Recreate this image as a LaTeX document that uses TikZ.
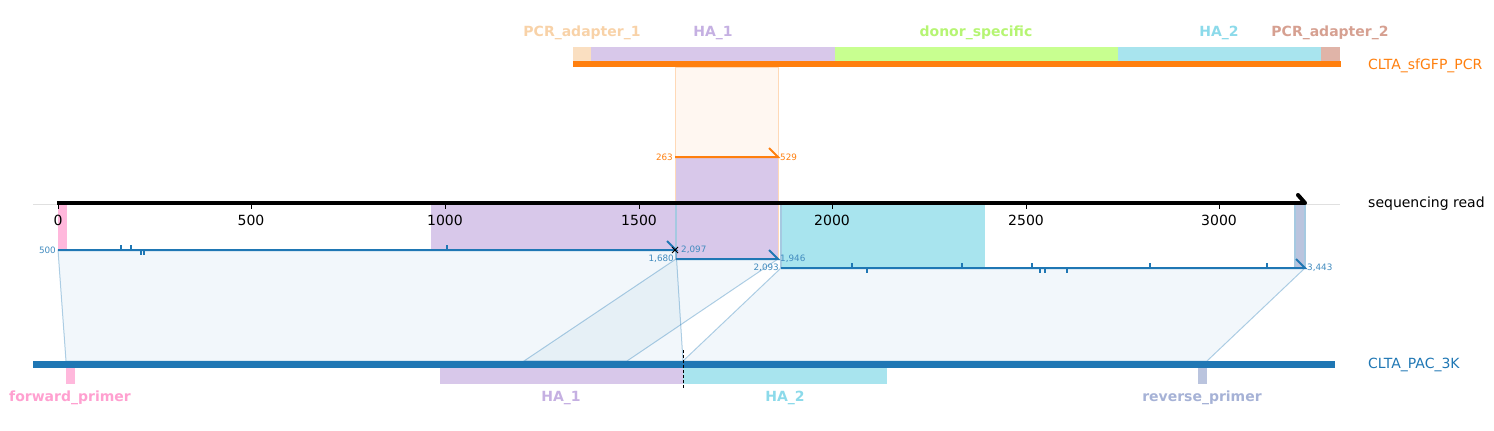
\documentclass[tikz,border=0pt]{standalone}
\usepackage{fontspec}
\setmainfont{DejaVu Sans}
\definecolor{tabblue}{HTML}{1F77B4}
\definecolor{taborange}{HTML}{FF7F0E}
\definecolor{adapter1}{RGB}{250,223,193}
\definecolor{adapter1txt}{RGB}{248,210,168}
\definecolor{haone}{RGB}{216,200,234}
\definecolor{haonetxt}{RGB}{197,176,226}
\definecolor{donor}{RGB}{200,255,144}
\definecolor{donortxt}{RGB}{182,245,115}
\definecolor{hatwo}{RGB}{168,228,238}
\definecolor{hatwotxt}{RGB}{140,218,234}
\definecolor{adapter2}{RGB}{224,180,168}
\definecolor{adapter2txt}{RGB}{214,160,145}
\definecolor{fwdprimer}{RGB}{255,184,220}
\definecolor{fwdprimertxt}{RGB}{255,160,208}
\definecolor{revprimer}{RGB}{186,196,222}
\definecolor{revprimertxt}{RGB}{166,178,214}
\begin{document}
\begin{tikzpicture}[x=1pt, y=-1pt,
    featlabel/.style={font=\bfseries\fontsize{14}{15}\selectfont, inner sep=0pt},
    seqlabel/.style={font=\fontsize{14}{15}\selectfont, anchor=west, inner sep=0pt},
    axlabel/.style={font=\fontsize{14}{15}\selectfont, inner sep=0pt},
    poslabel/.style={font=\fontsize{8.8}{9}\selectfont, inner sep=2pt},
    aln/.style={tabblue, line width=2pt},
    span/.style={fill=tabblue, fill opacity=0.06, draw=tabblue, draw opacity=0.35, line width=1pt}]
        \useasboundingbox (0,0) rectangle (1494,431);

        \fill[adapter1] (573,47) rectangle (591,61);
        \fill[haone] (591,47) rectangle (835,61);
        \fill[donor] (835,47) rectangle (1118,61);
        \fill[hatwo] (1118,47) rectangle (1321,61);
        \fill[adapter2] (1321,47) rectangle (1340,61);
        \draw[taborange, line width=6pt] (573,64) -- (1341,64);
        \node[featlabel, adapter1txt] (adapter_1_lbl) at (582,33) {PCR\_adapter\_1};
        \node[featlabel, haonetxt] (ha_1_top_lbl) at (713,33) {HA\_1};
        \node[featlabel, donortxt] (donor_lbl) at (976,33) {donor\_specific};
        \node[featlabel, hatwotxt] (ha_2_top_lbl) at (1219,33) {HA\_2};
        \node[featlabel, adapter2txt] (adapter_2_lbl) at (1330,33) {PCR\_adapter\_2};
        \node[seqlabel, taborange] (pcr_lbl) at (1368,66) {CLTA\_sfGFP\_PCR};

        \filldraw[fill=taborange!6, draw=taborange!30, line width=1pt] (675,67) rectangle (778,157);
        \filldraw[fill=haone, draw=taborange!30, line width=1pt] (675,157) rectangle (778,259);
        \fill[haone] (431,204) rectangle (676,250);
        \fill[fwdprimer] (58,204) rectangle (67,250);
        \fill[hatwo] (781,204) rectangle (985,268);
        \fill[revprimer] (1295,204) rectangle (1305,268);
        \draw[tabblue!40, line width=1.5pt] (676,204) -- (676,259) (781,204) -- (781,268)
            (1295,204) -- (1295,268) (1305,204) -- (1305,268);
        \draw[black!12, line width=0.8pt] (33,204) -- (1340,204);

        \coordinate (read_start) at (57,203);
        \coordinate (read_end) at (1305,203);
        \draw[line width=4pt] (read_start) -- (read_end);
        \draw[line width=4pt, line cap=round] (read_end) -- (1298,195);
        \draw[line width=0.8pt] (58,205) -- (58,209) (251,205) -- (251,209) (445,205) -- (445,209)
            (639,205) -- (639,209) (832,205) -- (832,209) (1026,205) -- (1026,209) (1219,205) -- (1219,209);
        \node[axlabel] (tick_0) at (58,220) {0};
        \node[axlabel] (tick_500) at (251,220) {500};
        \node[axlabel] (tick_1000) at (445,220) {1000};
        \node[axlabel] (tick_1500) at (639,220) {1500};
        \node[axlabel] (tick_2000) at (832,220) {2000};
        \node[axlabel] (tick_2500) at (1026,220) {2500};
        \node[axlabel] (tick_3000) at (1219,220) {3000};
        \node[seqlabel] (read_lbl) at (1368,204) {sequencing read};

        \filldraw[span] (58,250) -- (676,250) -- (683,361) -- (66,361) -- cycle;
        \filldraw[span] (676,259) -- (778,259) -- (627,361) -- (524,361) -- cycle;
        \filldraw[span] (781,268) -- (1305,268) -- (1207,361) -- (683,361) -- cycle;

        \coordinate (pcr_aln_start) at (675,157);
        \coordinate (pcr_aln_end) at (778,157);
        \draw[taborange, line width=2pt] (pcr_aln_start) -- (pcr_aln_end) -- (769,148);
        \node[poslabel, taborange, anchor=east] (pcr_aln_from) at (pcr_aln_start) {263};
        \node[poslabel, taborange, anchor=west] (pcr_aln_to) at (pcr_aln_end) {529};

        \coordinate (aln1_start) at (58,250);
        \coordinate (aln1_end) at (676,250);
        \draw[aln] (aln1_start) -- (aln1_end) -- (667,241);
        \draw[aln] (121,245) -- (121,250) (131,245) -- (131,250) (141,250) -- (141,255)
            (143.5,250) -- (143.5,255) (447,245) -- (447,250);
        \draw[line width=1pt] (672,247) -- (678,253) (672,253) -- (678,247);
        \node[poslabel, tabblue!85, anchor=east] (aln1_from) at (aln1_start) {500};
        \node[poslabel, tabblue!85, anchor=west] (aln1_to) at (679,250) {2,097};

        \coordinate (aln2_start) at (676,259);
        \coordinate (aln2_end) at (778,259);
        \draw[aln] (aln2_start) -- (aln2_end) -- (769,250);
        \node[poslabel, tabblue!85, anchor=east] (aln2_from) at (aln2_start) {1,680};
        \node[poslabel, tabblue!85, anchor=west] (aln2_to) at (aln2_end) {1,946};

        \coordinate (aln3_start) at (781,268);
        \coordinate (aln3_end) at (1305,268);
        \draw[aln] (aln3_start) -- (aln3_end) -- (1296,259);
        \draw[aln] (852,263) -- (852,268) (867,268) -- (867,273) (962,263) -- (962,268)
            (1032,263) -- (1032,268) (1040,268) -- (1040,273) (1045,268) -- (1045,273)
            (1067,268) -- (1067,273) (1149.5,263) -- (1149.5,268) (1267,263) -- (1267,268);
        \node[poslabel, tabblue!85, anchor=east] (aln3_from) at (aln3_start) {2,093};
        \node[poslabel, tabblue!85, anchor=west] (aln3_to) at (aln3_end) {3,443};

        \draw[tabblue, line width=7pt] (33,364.5) -- (1335,364.5);
        \fill[fwdprimer] (66,368) rectangle (75,384);
        \fill[haone] (440,368) rectangle (683,384);
        \fill[hatwo] (683,368) rectangle (887,384);
        \fill[revprimer] (1198,368) rectangle (1207,384);
        \draw[line width=1pt, dash pattern=on 3pt off 2pt] (683,350) -- (683,388);
        \node[featlabel, fwdprimertxt] (fwd_lbl) at (70,398) {forward\_primer};
        \node[featlabel, haonetxt] (ha_1_bot_lbl) at (561,398) {HA\_1};
        \node[featlabel, hatwotxt] (ha_2_bot_lbl) at (785,398) {HA\_2};
        \node[featlabel, revprimertxt] (rev_lbl) at (1202,398) {reverse\_primer};
        \node[seqlabel, tabblue] (pac_lbl) at (1368,365) {CLTA\_PAC\_3K};

    \end{tikzpicture}
\end{document}
